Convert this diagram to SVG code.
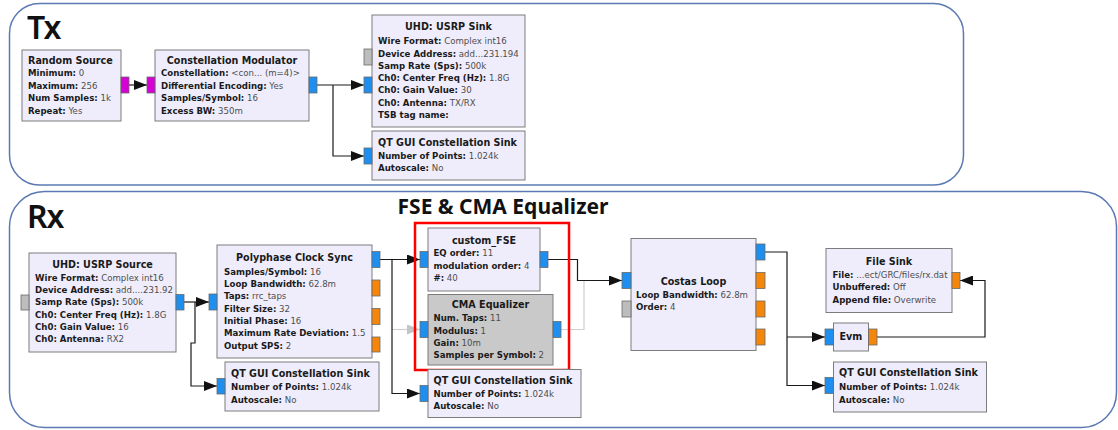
<svg xmlns="http://www.w3.org/2000/svg" width="1118" height="430" viewBox="0 0 1118 430">
  <style>
    .panel { fill: none; stroke: #5b79b2; stroke-width: 1.5; }
    .blk { fill: #efedfc; stroke: #7c7c7c; stroke-width: 1; }
    .blk.off { fill: #c9c9c9; }
    .port { stroke: #6a6a6a; stroke-width: 0.8; }
    .cpx { fill: #1f8fef; }
    .flt { fill: #f5860c; }
    .byt { fill: #d400d4; }
    .msg { fill: #bdbdbd; }
    .t { font-family: "DejaVu Sans", sans-serif; font-size: 8.6px; fill: #4d4d4d; }
    .k, .h { font-weight: bold; fill: #1a1a1a; }
    .h { font-family: "DejaVu Sans", sans-serif; font-size: 9.6px; }
    .c { text-anchor: middle; }
    .big { font-family: "Noto Sans", sans-serif; font-weight: 600; font-size: 32px; fill: #111; letter-spacing: -1px; }
    .cap { font-family: "Noto Sans", sans-serif; font-weight: 700; font-size: 21px; fill: #111; }
    .w { fill: none; stroke: #1a1a1a; stroke-width: 1.2; }
    .w.arr { marker-end: url(#arrow); }
    .w.off { stroke: #cfcfcf; marker-end: url(#arrow-off); }
    .frame { fill: none; stroke: #ff0000; stroke-width: 2.5; }
  </style>
  <defs>
    <marker id="arrow" markerUnits="userSpaceOnUse" markerWidth="14" markerHeight="10" refX="13" refY="5" orient="auto">
      <path d="M0,0 L13,5 L0,10 Z" fill="#111"/>
    </marker>
    <marker id="arrow-off" markerUnits="userSpaceOnUse" markerWidth="14" markerHeight="10" refX="13" refY="5" orient="auto">
      <path d="M0,0 L13,5 L0,10 Z" fill="#c4c4c4"/>
    </marker>
  </defs>

  <rect width="1118" height="430" fill="#ffffff"/>

  <!-- flowgraph panels -->
  <rect class="panel" x="9.5" y="3.5" width="954" height="181.5" rx="30"/>
  <rect class="panel" x="9.5" y="191.5" width="1107" height="236" rx="35"/>
  <text class="big" x="27" y="39">Tx</text>
  <text class="big" x="27" y="228">Rx</text>
  <text class="cap c" x="503" y="214">FSE &amp; CMA Equalizer</text>

  <!-- connections -->
  <g id="connectors">
    <path class="w arr" d="M129,85 H147"/>
    <path class="w arr" d="M317,85 H364"/>
    <path class="w arr" d="M333,85 V156 H364"/>

    <path class="w arr" d="M184,302 H209"/>
    <path class="w arr" d="M195,302 V343 H191 V386 H217"/>
    <path class="w off" d="M392,329.5 H420"/>
    <path class="w arr" d="M380,259.5 H420"/>
    <path class="w arr" d="M392,259.5 V393.5 H420"/>
    <path class="w" style="stroke:#cfcfcf" d="M561,329.5 H584 V280.5"/>
    <path class="w arr" d="M548,259.5 H577.5 V280.5 H622"/>
    <path class="w arr" d="M765,252 H787 V385.5 H825"/>
    <path class="w arr" d="M787,337 H825"/>
    <path class="w arr" d="M877,337 H985 V280.5 H960"/>
  </g>

  <!-- Tx blocks -->
  <g id="random_source">
    <rect class="blk" x="22" y="50" width="99" height="71"/>
    <rect class="port byt" x="121" y="77" width="8" height="16"/>
    <text class="h" x="28" y="63.5">Random Source</text>
    <text class="t" x="28" y="76"><tspan class="k">Minimum:</tspan> 0</text>
    <text class="t" x="28" y="88.5"><tspan class="k">Maximum:</tspan> 256</text>
    <text class="t" x="28" y="101"><tspan class="k">Num Samples:</tspan> 1k</text>
    <text class="t" x="28" y="113.5"><tspan class="k">Repeat:</tspan> Yes</text>
  </g>

  <g id="constellation_modulator">
    <rect class="blk" x="155" y="50" width="154" height="71"/>
    <rect class="port byt" x="147" y="77" width="8" height="16"/>
    <rect class="port cpx" x="309" y="77" width="8" height="16"/>
    <text class="h c" x="232" y="63.5">Constellation Modulator</text>
    <text class="t" x="161" y="76"><tspan class="k">Constellation:</tspan> &lt;con... (m=4)&gt;</text>
    <text class="t" x="161" y="88.5"><tspan class="k">Differential Encoding:</tspan> Yes</text>
    <text class="t" x="161" y="101"><tspan class="k">Samples/Symbol:</tspan> 16</text>
    <text class="t" x="161" y="113.5"><tspan class="k">Excess BW:</tspan> 350m</text>
  </g>

  <g id="usrp_sink">
    <rect class="blk" x="372" y="15" width="153" height="112"/>
    <rect class="port msg" x="364" y="49" width="8" height="16"/>
    <rect class="port cpx" x="364" y="77" width="8" height="16"/>
    <text class="h c" x="448.5" y="30">UHD: USRP Sink</text>
    <text class="t" x="378" y="44"><tspan class="k">Wire Format:</tspan> Complex int16</text>
    <text class="t" x="378" y="56.5"><tspan class="k">Device Address:</tspan> add...231.194</text>
    <text class="t" x="378" y="68.5"><tspan class="k">Samp Rate (Sps):</tspan> 500k</text>
    <text class="t" x="378" y="81"><tspan class="k">Ch0: Center Freq (Hz):</tspan> 1.8G</text>
    <text class="t" x="378" y="93"><tspan class="k">Ch0: Gain Value:</tspan> 30</text>
    <text class="t" x="378" y="105.5"><tspan class="k">Ch0: Antenna:</tspan> TX/RX</text>
    <text class="t" x="378" y="118"><tspan class="k">TSB tag name:</tspan></text>
  </g>

  <g id="tx_const_sink">
    <rect class="blk" x="372" y="131" width="153" height="49"/>
    <rect class="port cpx" x="364" y="148" width="8" height="16"/>
    <text class="h" x="378" y="146">QT GUI Constellation Sink</text>
    <text class="t" x="378" y="158.5"><tspan class="k">Number of Points:</tspan> 1.024k</text>
    <text class="t" x="378" y="171"><tspan class="k">Autoscale:</tspan> No</text>
  </g>

  <!-- Rx blocks -->
  <g id="usrp_source">
    <rect class="blk" x="29" y="253" width="147" height="99"/>
    <rect class="port msg" x="21" y="295" width="8" height="15"/>
    <rect class="port cpx" x="176" y="294.5" width="8" height="15.5"/>
    <text class="h c" x="102.5" y="267.5">UHD: USRP Source</text>
    <text class="t" x="35" y="280.5"><tspan class="k">Wire Format:</tspan> Complex int16</text>
    <text class="t" x="35" y="293"><tspan class="k">Device Address:</tspan> add....231.92</text>
    <text class="t" x="35" y="305"><tspan class="k">Samp Rate (Sps):</tspan> 500k</text>
    <text class="t" x="35" y="317.5"><tspan class="k">Ch0: Center Freq (Hz):</tspan> 1.8G</text>
    <text class="t" x="35" y="329.5"><tspan class="k">Ch0: Gain Value:</tspan> 16</text>
    <text class="t" x="35" y="342"><tspan class="k">Ch0: Antenna:</tspan> RX2</text>
  </g>

  <g id="polyphase_clock_sync">
    <rect class="blk" x="217" y="245" width="155" height="113"/>
    <rect class="port cpx" x="209" y="294" width="8" height="16"/>
    <rect class="port cpx" x="372" y="251.5" width="8" height="16"/>
    <rect class="port flt" x="372" y="280" width="8" height="16"/>
    <rect class="port flt" x="372" y="308.5" width="8" height="16"/>
    <rect class="port flt" x="372" y="337" width="8" height="15"/>
    <text class="h c" x="294.5" y="261">Polyphase Clock Sync</text>
    <text class="t" x="224" y="274.5"><tspan class="k">Samples/Symbol:</tspan> 16</text>
    <text class="t" x="224" y="287"><tspan class="k">Loop Bandwidth:</tspan> 62.8m</text>
    <text class="t" x="224" y="299"><tspan class="k">Taps:</tspan> rrc_taps</text>
    <text class="t" x="224" y="311.5"><tspan class="k">Filter Size:</tspan> 32</text>
    <text class="t" x="224" y="323.5"><tspan class="k">Initial Phase:</tspan> 16</text>
    <text class="t" x="224" y="336"><tspan class="k">Maximum Rate Deviation:</tspan> 1.5</text>
    <text class="t" x="224" y="348.5"><tspan class="k">Output SPS:</tspan> 2</text>
  </g>

  <g id="rx_const_sink_1">
    <rect class="blk" x="225" y="362" width="154" height="49"/>
    <rect class="port cpx" x="217" y="378.5" width="8" height="15.5"/>
    <text class="h" x="231" y="377">QT GUI Constellation Sink</text>
    <text class="t" x="231" y="390"><tspan class="k">Number of Points:</tspan> 1.024k</text>
    <text class="t" x="231" y="402.5"><tspan class="k">Autoscale:</tspan> No</text>
  </g>

  <g id="custom_fse">
    <rect class="blk" x="428" y="228" width="112" height="63"/>
    <rect class="port cpx" x="420" y="251.5" width="8" height="16"/>
    <rect class="port cpx" x="540" y="251.5" width="8" height="16"/>
    <text class="h c" x="484" y="243.5">custom_FSE</text>
    <text class="t" x="433.5" y="256"><tspan class="k">EQ order:</tspan> 11</text>
    <text class="t" x="433.5" y="269"><tspan class="k">modulation order:</tspan> 4</text>
    <text class="t" x="433.5" y="281"><tspan class="k">#:</tspan> 40</text>
  </g>

  <g id="cma_equalizer">
    <rect class="blk off" x="428" y="294.5" width="125" height="70.5"/>
    <rect class="port cpx" x="420" y="321.5" width="8" height="16"/>
    <rect class="port cpx" x="553" y="321.5" width="8" height="16"/>
    <text class="h c" x="490.5" y="308">CMA Equalizer</text>
    <text class="t" x="433.5" y="321"><tspan class="k">Num. Taps:</tspan> 11</text>
    <text class="t" x="433.5" y="333.5"><tspan class="k">Modulus:</tspan> 1</text>
    <text class="t" x="433.5" y="346"><tspan class="k">Gain:</tspan> 10m</text>
    <text class="t" x="433.5" y="358"><tspan class="k">Samples per Symbol:</tspan> 2</text>
  </g>

  <rect class="frame" x="415" y="223" width="154" height="147"/>

  <g id="rx_const_sink_2">
    <rect class="blk" x="428" y="369.5" width="153" height="48"/>
    <rect class="port cpx" x="420" y="385.5" width="8" height="16"/>
    <text class="h" x="433.5" y="383.5">QT GUI Constellation Sink</text>
    <text class="t" x="433.5" y="397"><tspan class="k">Number of Points:</tspan> 1.024k</text>
    <text class="t" x="433.5" y="409"><tspan class="k">Autoscale:</tspan> No</text>
  </g>

  <g id="costas_loop">
    <rect class="blk" x="631" y="238.5" width="125" height="112"/>
    <rect class="port cpx" x="622" y="272.5" width="9" height="16"/>
    <rect class="port msg" x="622" y="301" width="9" height="16"/>
    <rect class="port cpx" x="756" y="244" width="9" height="16"/>
    <rect class="port flt" x="756" y="272.5" width="9" height="16"/>
    <rect class="port flt" x="756" y="301" width="9" height="16"/>
    <rect class="port flt" x="756" y="329" width="9" height="16"/>
    <text class="h c" x="693.5" y="285">Costas Loop</text>
    <text class="t" x="636" y="298"><tspan class="k">Loop Bandwidth:</tspan> 62.8m</text>
    <text class="t" x="636" y="310"><tspan class="k">Order:</tspan> 4</text>
  </g>

  <g id="file_sink">
    <rect class="blk" x="826" y="248.5" width="126" height="64"/>
    <rect class="port flt" x="952" y="272.5" width="8" height="16"/>
    <text class="h c" x="889" y="264.5">File Sink</text>
    <text class="t" x="832.5" y="278"><tspan class="k">File:</tspan> ...ect/GRC/files/rx.dat</text>
    <text class="t" x="832.5" y="290"><tspan class="k">Unbuffered:</tspan> Off</text>
    <text class="t" x="832.5" y="302.5"><tspan class="k">Append file:</tspan> Overwrite</text>
  </g>

  <g id="evm">
    <rect class="blk" x="833.5" y="323" width="35" height="28"/>
    <rect class="port cpx" x="825" y="329" width="8.5" height="16"/>
    <rect class="port flt" x="868.5" y="329" width="8.5" height="16"/>
    <text class="h" x="839.5" y="340">Evm</text>
  </g>

  <g id="rx_const_sink_3">
    <rect class="blk" x="833.5" y="362" width="153" height="50"/>
    <rect class="port cpx" x="825" y="377.5" width="8.5" height="16"/>
    <text class="h" x="839" y="376">QT GUI Constellation Sink</text>
    <text class="t" x="839" y="390"><tspan class="k">Number of Points:</tspan> 1.024k</text>
    <text class="t" x="839" y="402.5"><tspan class="k">Autoscale:</tspan> No</text>
  </g>
</svg>
